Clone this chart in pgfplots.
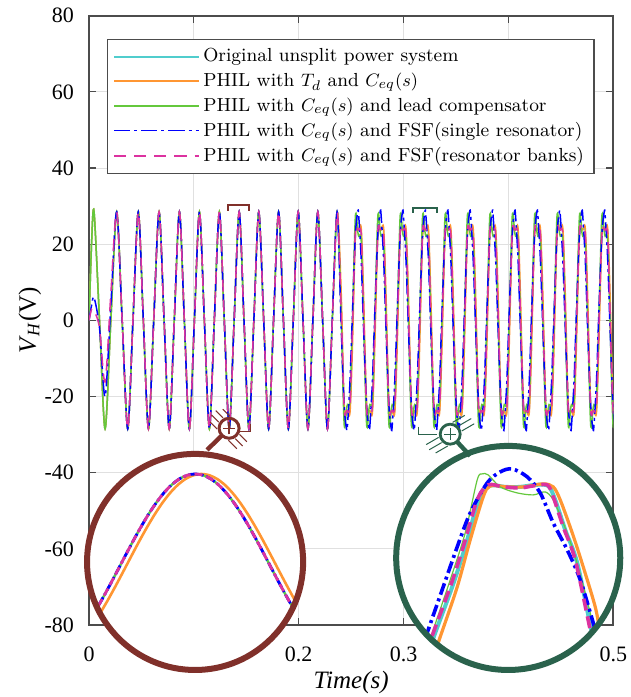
\documentclass[border=0pt]{standalone}
\usepackage{pgfplots}
\pgfplotsset{compat=1.18}
\usepackage{pgfplotstable}
\usetikzlibrary{calc}
\usepackage{fontspec}
\newfontfamily\timesf{Liberation Serif}
\definecolor{cCyan}{RGB}{80,205,205}
\definecolor{cOrange}{RGB}{255,150,50}
\definecolor{cGreen}{RGB}{100,200,60}
\definecolor{cBlue}{RGB}{0,0,255}
\definecolor{cPink}{RGB}{220,50,160}
\definecolor{cBrown}{RGB}{128,48,42}
\definecolor{cDkGreen}{RGB}{42,98,76}

\pgfplotstableread{
t c o g b p
0 0 0 0 0 0
0.0025 20.8 20.8 20.8 4.0 3.0
0.0048 28.5 28.5 28.5 6.0 2.6
0.0100 0 0 0 -2.0 -2.0
0.0153 -28.5 -28.5 -28.5 -20.0 -16.2
0.0208 0 0 0 4.0 7.0
0.0264 28.5 28.5 28.5 28.5 28.5
0.0316 0 0 0 0 0
0.0369 -28.5 -28.5 -28.5 -28.5 -28.5
0.0419 0 0 0 0 0
0.0470 28.5 28.5 28.5 28.5 28.5
0.0518 0 0 0 0 0
0.0567 -28.5 -28.5 -28.5 -28.5 -28.5
0.0617 0 0 0 0 0
0.0668 28.5 28.5 28.5 28.5 28.5
0.0716 0 0 0 0 0
0.0765 -28.5 -28.5 -28.5 -28.5 -28.5
0.0813 0 0 0 0 0
0.0862 28.5 28.5 28.5 28.5 28.5
0.0909 0 0 0 0 0
0.0957 -28.5 -28.5 -28.5 -28.5 -28.5
0.1005 0 0 0 0 0
0.1053 28.5 28.5 28.5 28.5 28.5
0.1100 0 0 0 0 0
0.1148 -28.5 -28.5 -28.5 -28.5 -28.5
0.1195 0 0 0 0 0
0.1243 28.5 28.5 28.5 28.5 28.5
0.1290 0 0 0 0 0
0.1337 -28.5 -28.5 -28.5 -28.5 -28.5
0.1384 0 0 0 0 0
0.1432 28.5 28.5 28.5 28.5 28.5
0.1478 0 0 0 0 0
0.1525 -28.5 -28.5 -28.5 -28.5 -28.5
0.1572 0 0 0 0 0
0.1619 28.5 28.5 28.5 28.5 28.5
0.1666 0 0 0 0 0
0.1713 -28.5 -28.5 -28.5 -28.5 -28.5
0.1760 0 0 0 0 0
0.1808 28.5 28.5 28.5 28.5 28.5
0.1854 0 0 0 0 0
0.1901 -28.5 -28.5 -28.5 -28.5 -28.5
0.1948 0 0 0 0 0
0.1995 28.5 28.5 28.5 28.5 28.5
0.2041 0 0 0 0 0
0.2088 -28.5 -28.5 -28.5 -28.5 -28.5
0.2135 0 0 0 0 0
0.2182 28.5 28.5 28.5 28.5 28.5
0.2228 0 0 0 0 0
0.2274 -28.5 -28.5 -28.5 -28.5 -28.5
0.2320 0 0 0 0 0
0.2366 28.5 28.5 28.5 28.5 28.5
0.2403 4.6 9.2 2.5 0 4.3
0.2433 -22.8 -21.7 -27.1 -22.2 -23.1
0.2456 -24.0 -23.8 -23.3 -28.5 -23.8
0.2465 -23.8 -23.8 -22.1 -27.5 -23.7
0.2489 -23.0 -24.2 -21.0 -16.1 -22.6
0.2510 -4.6 -9.2 -2.5 0 -4.3
0.2540 22.8 21.7 27.1 22.2 23.1
0.2563 24.0 23.8 23.3 28.5 23.8
0.2572 23.8 23.8 22.1 27.5 23.7
0.2596 23.0 24.2 21.0 16.1 22.6
0.2616 4.6 9.2 2.5 0 4.3
0.2647 -22.8 -21.7 -27.1 -22.2 -23.1
0.2670 -24.0 -23.8 -23.3 -28.5 -23.8
0.2679 -23.8 -23.8 -22.1 -27.5 -23.7
0.2703 -23.0 -24.2 -21.0 -16.1 -22.6
0.2723 -4.6 -9.2 -2.5 0 -4.3
0.2754 22.8 21.7 27.1 22.2 23.1
0.2777 24.0 23.8 23.3 28.5 23.8
0.2786 23.8 23.8 22.1 27.5 23.7
0.2810 23.0 24.2 21.0 16.1 22.6
0.2830 4.6 9.2 2.5 0 4.3
0.2860 -22.8 -21.7 -27.1 -22.2 -23.1
0.2883 -24.0 -23.8 -23.3 -28.5 -23.8
0.2892 -23.8 -23.8 -22.1 -27.5 -23.7
0.2916 -23.0 -24.2 -21.0 -16.1 -22.6
0.2937 -4.6 -9.2 -2.5 0 -4.3
0.2967 22.8 21.7 27.1 22.2 23.1
0.2990 24.0 23.8 23.3 28.5 23.8
0.2999 23.8 23.8 22.1 27.5 23.7
0.3023 23.0 24.2 21.0 16.1 22.6
0.3044 4.6 9.2 2.5 0 4.3
0.3074 -22.8 -21.7 -27.1 -22.2 -23.1
0.3097 -24.0 -23.8 -23.3 -28.5 -23.8
0.3106 -23.8 -23.8 -22.1 -27.5 -23.7
0.3130 -23.0 -24.2 -21.0 -16.1 -22.6
0.3151 -4.6 -9.2 -2.5 0 -4.3
0.3181 22.8 21.7 27.1 22.2 23.1
0.3204 24.0 23.8 23.3 28.5 23.8
0.3213 23.8 23.8 22.1 27.5 23.7
0.3237 23.0 24.2 21.0 16.1 22.6
0.3257 4.6 9.2 2.5 0 4.3
0.3288 -22.8 -21.7 -27.1 -22.2 -23.1
0.3311 -24.0 -23.8 -23.3 -28.5 -23.8
0.3320 -23.8 -23.8 -22.1 -27.5 -23.7
0.3344 -23.0 -24.2 -21.0 -16.1 -22.6
0.3364 -4.6 -9.2 -2.5 0 -4.3
0.3395 22.8 21.7 27.1 22.2 23.1
0.3418 24.0 23.8 23.3 28.5 23.8
0.3427 23.8 23.8 22.1 27.5 23.7
0.3451 23.0 24.2 21.0 16.1 22.6
0.3471 4.6 9.2 2.5 0 4.3
0.3502 -22.8 -21.7 -27.1 -22.2 -23.1
0.3525 -24.0 -23.8 -23.3 -28.5 -23.8
0.3534 -23.8 -23.8 -22.1 -27.5 -23.7
0.3558 -23.0 -24.2 -21.0 -16.1 -22.6
0.3578 -4.6 -9.2 -2.5 0 -4.3
0.3608 22.8 21.7 27.1 22.2 23.1
0.3631 24.0 23.8 23.3 28.5 23.8
0.3640 23.8 23.8 22.1 27.5 23.7
0.3664 23.0 24.2 21.0 16.1 22.6
0.3685 4.6 9.2 2.5 0 4.3
0.3715 -22.8 -21.7 -27.1 -22.2 -23.1
0.3738 -24.0 -23.8 -23.3 -28.5 -23.8
0.3747 -23.8 -23.8 -22.1 -27.5 -23.7
0.3771 -23.0 -24.2 -21.0 -16.1 -22.6
0.3792 -4.6 -9.2 -2.5 0 -4.3
0.3822 22.8 21.7 27.1 22.2 23.1
0.3845 24.0 23.8 23.3 28.5 23.8
0.3854 23.8 23.8 22.1 27.5 23.7
0.3878 23.0 24.2 21.0 16.1 22.6
0.3899 4.6 9.2 2.5 0 4.3
0.3929 -22.8 -21.7 -27.1 -22.2 -23.1
0.3952 -24.0 -23.8 -23.3 -28.5 -23.8
0.3961 -23.8 -23.8 -22.1 -27.5 -23.7
0.3985 -23.0 -24.2 -21.0 -16.1 -22.6
0.4005 -4.6 -9.2 -2.5 0 -4.3
0.4036 22.8 21.7 27.1 22.2 23.1
0.4059 24.0 23.8 23.3 28.5 23.8
0.4068 23.8 23.8 22.1 27.5 23.7
0.4092 23.0 24.2 21.0 16.1 22.6
0.4112 4.6 9.2 2.5 0 4.3
0.4143 -22.8 -21.7 -27.1 -22.2 -23.1
0.4166 -24.0 -23.8 -23.3 -28.5 -23.8
0.4175 -23.8 -23.8 -22.1 -27.5 -23.7
0.4199 -23.0 -24.2 -21.0 -16.1 -22.6
0.4219 -4.6 -9.2 -2.5 0 -4.3
0.4249 22.8 21.7 27.1 22.2 23.1
0.4272 24.0 23.8 23.3 28.5 23.8
0.4281 23.8 23.8 22.1 27.5 23.7
0.4305 23.0 24.2 21.0 16.1 22.6
0.4326 4.6 9.2 2.5 0 4.3
0.4356 -22.8 -21.7 -27.1 -22.2 -23.1
0.4379 -24.0 -23.8 -23.3 -28.5 -23.8
0.4388 -23.8 -23.8 -22.1 -27.5 -23.7
0.4412 -23.0 -24.2 -21.0 -16.1 -22.6
0.4433 -4.6 -9.2 -2.5 0 -4.3
0.4463 22.8 21.7 27.1 22.2 23.1
0.4486 24.0 23.8 23.3 28.5 23.8
0.4495 23.8 23.8 22.1 27.5 23.7
0.4519 23.0 24.2 21.0 16.1 22.6
0.4540 4.6 9.2 2.5 0 4.3
0.4570 -22.8 -21.7 -27.1 -22.2 -23.1
0.4593 -24.0 -23.8 -23.3 -28.5 -23.8
0.4602 -23.8 -23.8 -22.1 -27.5 -23.7
0.4626 -23.0 -24.2 -21.0 -16.1 -22.6
0.4646 -4.6 -9.2 -2.5 0 -4.3
0.4677 22.8 21.7 27.1 22.2 23.1
0.4700 24.0 23.8 23.3 28.5 23.8
0.4709 23.8 23.8 22.1 27.5 23.7
0.4733 23.0 24.2 21.0 16.1 22.6
0.4753 4.6 9.2 2.5 0 4.3
0.4784 -22.8 -21.7 -27.1 -22.2 -23.1
0.4807 -24.0 -23.8 -23.3 -28.5 -23.8
0.4816 -23.8 -23.8 -22.1 -27.5 -23.7
0.4840 -23.0 -24.2 -21.0 -16.1 -22.6
0.4860 -4.6 -9.2 -2.5 0 -4.3
0.4891 22.8 21.7 27.1 22.2 23.1
0.4914 24.0 23.8 23.3 28.5 23.8
0.4923 23.8 23.8 22.1 27.5 23.7
0.4947 23.0 24.2 21.0 16.1 22.6
0.4967 4.6 9.2 2.5 0 4.3
0.4997 -22.8 -21.7 -27.1 -22.2 -23.1
0.5020 -24.0 -23.8 -23.3 -28.5 -23.8
0.5029 -23.8 -23.8 -22.1 -27.5 -23.7
}\mainData

\pgfplotstableread{
x xo y
-7.5 -7.1 -22.27
-7.0 -6.6 -19.05
-6.5 -6.1 -15.32
-6.0 -5.6 -11.18
-5.5 -5.1 -6.73
-5.0 -4.6 -2.11
-4.5 -4.1 2.57
-4.0 -3.6 7.19
-3.5 -3.1 11.60
-3.0 -2.6 15.71
-2.5 -2.1 19.39
-2.0 -1.6 22.55
-1.5 -1.1 25.10
-1.0 -0.6 26.97
-0.5 -0.1 28.12
0.0 0.4 28.50
0.5 0.9 28.12
1.0 1.4 26.97
1.5 1.9 25.10
2.0 2.4 22.55
2.5 2.9 19.39
3.0 3.4 15.71
3.5 3.9 11.60
4.0 4.4 7.19
4.5 4.9 2.57
5.0 5.4 -2.11
5.5 5.9 -6.73
6.0 6.4 -11.18
6.5 6.9 -15.32
7.0 7.4 -19.05
7.5 7.9 -22.27
}\leftInset

\begin{document}
\begin{tikzpicture}
\useasboundingbox (-44.5pt,-36pt) rectangle (270.5pt,312.35pt);
\begin{axis}[
  scale only axis, width=262pt, height=304.5pt,
  at={(0pt,0pt)}, anchor=south west,
  xmin=0, xmax=0.5, ymin=-80, ymax=80,
  xtick={0,0.1,0.2,0.3,0.4,0.5}, xticklabels={0,0.1,0.2,0.3,0.4,0.5},
  ytick={-80,-60,-40,-20,0,20,40,60,80},
  yticklabels={-80,-60,-40,-20,0,20,40,60,80},
  ticklabel style={font=\timesf\fontsize{11}{13}\selectfont},
  yticklabel style={xshift=-4pt},
  xticklabel style={yshift=-7.5pt},
  grid=major, major grid style={draw=black!12, line width=0.5pt},
  axis line style={draw=black!70, line width=0.8pt},
  tick style={draw=black!70, line width=0.6pt},
  tick align=inside, major tick length=3.5pt,
  xlabel={\textit{Time(s)}},
  ylabel={\textit{V}\textsubscript{\textit{H}}(V)},
  xlabel style={font=\timesf\fontsize{12.5}{14}\selectfont, at={(axis description cs:0.5,-0.0936)}, anchor=center},
  ylabel style={font=\timesf\fontsize{12.5}{14}\selectfont, at={(axis description cs:-0.113,0.5)}, anchor=center},
  legend style={at={(axis description cs:0.0344,0.9617)}, anchor=north west,
    draw=black!70, line width=0.6pt, fill=white,
    font=\fontsize{9.45}{11}\selectfont, inner xsep=3pt, inner ysep=2.5pt},
  legend cell align=left,
  legend image code/.code={\draw[#1, draw=., line width=0.8pt] (0pt,0pt) -- (42pt,0pt);},
  every axis plot/.append style={smooth},
]
\addplot[color=cCyan, line width=0.75pt] table[x=t,y=c]{\mainData};
\addlegendentry{Original unsplit power system}
\addplot[color=cOrange, line width=0.75pt] table[x=t,y=o]{\mainData};
\addlegendentry{PHIL with $T_d$ and $C_{eq}(s)$}
\addplot[color=cGreen, line width=0.75pt] table[x=t,y=g]{\mainData};
\addlegendentry{PHIL with $C_{eq}(s)$ and lead compensator}
\addplot[color=cBlue, line width=0.75pt, dash pattern=on 8pt off 2pt on 1.5pt off 2pt] table[x=t,y=b]{\mainData};
\addlegendentry{PHIL with $C_{eq}(s)$ and FSF(single resonator)}
\addplot[color=cPink, line width=0.75pt, dash pattern=on 6pt off 4pt] table[x=t,y=p]{\mainData};
\addlegendentry{PHIL with $C_{eq}(s)$ and FSF(resonator banks)}
\end{axis}

% left magnified view
\fill[white] (53pt,31.5pt) circle (54pt);
\begin{scope}
\clip (53pt,31.5pt) circle (54pt);
\begin{axis}[at={(-1pt,-22.5pt)}, anchor=south west, scale only axis,
  width=108pt, height=108pt, xmin=-6.92, xmax=6.92, ymin=-33.0, ymax=34.8, hide axis,
  every axis plot/.append style={smooth}]
\addplot[cCyan, line width=1.2pt] table[x=x,y=y]{\leftInset};
\addplot[cOrange, line width=1.3pt] table[x=xo,y=y]{\leftInset};
\addplot[cGreen, line width=1.0pt] table[x=x,y=y]{\leftInset};
\addplot[cBlue, line width=1.4pt, dash pattern=on 5pt off 1.5pt on 1pt off 1.5pt] table[x=x,y=y]{\leftInset};
\addplot[cPink, line width=1.4pt, dash pattern=on 4pt off 2pt] table[x=x,y=y]{\leftInset};
\end{axis}
\end{scope}
\draw[cBrown, line width=3pt] (53pt,31.5pt) circle (54pt);

% right magnified view
\fill[white] (209.5pt,33.5pt) circle (56pt);
\begin{scope}
\clip (209.5pt,33.5pt) circle (56pt);
\begin{axis}[at={(153.5pt,-22.5pt)}, anchor=south west, scale only axis,
  width=112pt, height=112pt, xmin=396, xmax=620, ymin=-670, ymax=-446, hide axis,
  every axis plot/.append style={smooth}]
\addplot[cCyan, line width=2pt] coordinates {(422,-670) (435,-633) (452,-587) (465,-547) (478,-502) (489,-486) (505,-487) (520,-487) (535,-485) (548,-486) (555,-500) (565,-530) (577,-563) (591,-630) (599,-665)};
\addplot[cOrange, line width=1.6pt] coordinates {(428,-672) (440,-637) (457,-587) (470,-540) (483,-497) (490,-486) (507,-487) (523,-487) (543,-484) (553,-487) (560,-500) (572,-533) (583,-567) (595,-607) (600,-633) (606,-660)};
\addplot[cGreen, line width=0.6pt] coordinates {(420,-668) (433,-630) (450,-580) (465,-533) (477,-480) (482,-474) (488,-475) (500,-487) (517,-493) (533,-495) (545,-492) (553,-500) (563,-523) (575,-557) (590,-613) (598,-650)};
\addplot[cBlue, line width=1.8pt, dash pattern=on 6pt off 2pt on 1.5pt off 2pt] coordinates {(418,-660) (428,-630) (443,-587) (457,-547) (470,-513) (487,-483) (500,-472) (512,-469) (527,-477) (540,-493) (553,-523) (567,-550) (580,-580) (595,-630) (603,-660)};
\addplot[cPink, line width=1.8pt, dash pattern=on 6pt off 3pt] coordinates {(420,-670) (433,-633) (450,-587) (463,-547) (477,-500) (488,-485) (503,-487) (520,-488) (533,-486) (547,-485) (553,-497) (563,-527) (575,-560) (590,-630) (598,-665)};
\end{axis}
\end{scope}
\draw[cDkGreen, line width=3pt] (209.5pt,33.5pt) circle (56pt);

% brown magnifier icon and marker
\draw[cBrown, line width=0.8pt] (69.5pt,207pt) -- (69.5pt,210pt) -- (80pt,210pt) -- (80pt,207pt);
\draw[cBrown, line width=1.5pt] (70pt,98.3pt) circle (5pt);
\draw[cBrown, line width=0.6pt] (67pt,98.3pt) -- (73pt,98.3pt) (70pt,95.3pt) -- (70pt,101.3pt);
\draw[cBrown, line width=2.2pt] (66.3pt,94.6pt) -- (59pt,87.5pt);
\draw[cBrown, line width=0.5pt]
  ($(70pt,98.3pt)+(45:-4.5pt)+(-45:4pt)$) -- ($(70pt,98.3pt)+(45:-4.5pt)+(-45:10pt)$)
  ($(70pt,98.3pt)+(45:-1.5pt)+(-45:5.8pt)$) -- ($(70pt,98.3pt)+(45:-1.5pt)+(-45:11pt)$)
  ($(70pt,98.3pt)+(45:1.5pt)+(-45:5.8pt)$) -- ($(70pt,98.3pt)+(45:1.5pt)+(-45:11pt)$)
  ($(70pt,98.3pt)+(45:-4.5pt)+(-45:-4pt)$) -- ($(70pt,98.3pt)+(45:-4.5pt)+(-45:-9pt)$)
  ($(70pt,98.3pt)+(45:-1.5pt)+(-45:-5.8pt)$) -- ($(70pt,98.3pt)+(45:-1.5pt)+(-45:-11pt)$)
  ($(70pt,98.3pt)+(45:1.5pt)+(-45:-5.8pt)$) -- ($(70pt,98.3pt)+(45:1.5pt)+(-45:-11pt)$)
  ($(70pt,98.3pt)+(45:4.5pt)+(-45:-4pt)$) -- ($(70pt,98.3pt)+(45:4.5pt)+(-45:-9pt)$);
\draw[cBrown, line width=0.5pt] (75.5pt,96.5pt) -- (80.5pt,96.5pt) -- (80.5pt,100.5pt);

% green magnifier icon and marker
\draw[cDkGreen, line width=0.8pt] (162pt,206pt) -- (162pt,208.5pt) -- (174pt,208.5pt) -- (174pt,206pt);
\draw[cDkGreen, line width=1.4pt] (180.5pt,95.35pt) circle (5pt);
\draw[cDkGreen, line width=0.6pt] (177.5pt,95.35pt) -- (183.5pt,95.35pt) (180.5pt,92.35pt) -- (180.5pt,98.35pt);
\draw[cDkGreen, line width=2.2pt] (184pt,91.5pt) -- (190.5pt,84.5pt);
\draw[cDkGreen, line width=0.5pt]
  ($(180.5pt,95.35pt)+(120:4.5pt)+(30:4pt)$) -- ($(180.5pt,95.35pt)+(120:4.5pt)+(30:11pt)$)
  ($(180.5pt,95.35pt)+(120:1.5pt)+(30:5.8pt)$) -- ($(180.5pt,95.35pt)+(120:1.5pt)+(30:13pt)$)
  ($(180.5pt,95.35pt)+(120:-1.5pt)+(30:5.8pt)$) -- ($(180.5pt,95.35pt)+(120:-1.5pt)+(30:13pt)$)
  ($(180.5pt,95.35pt)+(120:1.5pt)+(30:-5.8pt)$) -- ($(180.5pt,95.35pt)+(120:1.5pt)+(30:-13pt)$)
  ($(180.5pt,95.35pt)+(120:-1.5pt)+(30:-5.8pt)$) -- ($(180.5pt,95.35pt)+(120:-1.5pt)+(30:-13pt)$)
  ($(180.5pt,95.35pt)+(120:-4.5pt)+(30:-4pt)$) -- ($(180.5pt,95.35pt)+(120:-4.5pt)+(30:-11pt)$);
\draw[cDkGreen, line width=0.5pt] (164.65pt,99.15pt) -- (164.65pt,95.35pt) -- (173.85pt,95.35pt);
\end{tikzpicture}
\end{document}
